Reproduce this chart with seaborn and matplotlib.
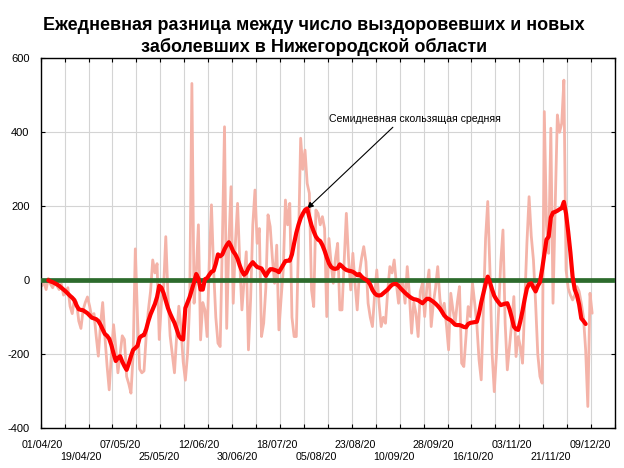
import numpy as np
import pandas as pd
import matplotlib
matplotlib.use("Agg")
import matplotlib.pyplot as plt
import seaborn as sns

# ---------------- data ----------------
start_date = "2020-04-01"

daily_diff = [
    -15, -5, -25, 5, -10, -20, -5, -15, -25, -10, -40, -30, -20,
    -70, -90, -50, -60, -110, -130, -80, -60, -45, -70, -100, -90, -150, -205, -120, -60, -150,
    -230, -296, -200, -120, -180, -250, -200, -150, -160, -260, -280, -305, -200, 85, -100,
    -240, -250, -245, -150,
    -80, -30, 55, 20, 45, -160, -60, -20, 118, -40, -150, -200, -250, -150, -70, -130, -220,
    -270, -200, -60, 532, -62, 20, 150, -161, -60, -80, -152, 50, 204, 28, -100, -170, -179,
    100, 415, -130, 100, 253, -62, 100, 208, 50, -80, 0, 77, -188, -50, 150, 244, 100, 140,
    -152, -116, -20, 177, 145, 60, -8, 95, -134, -50, 28, 217, 150, 208, -100, -152, -152,
    100, 384, 300, 352, 262, 235, -26, -71, 190, 181, 150, 172, 140, -98, 113, 46, -8, 60,
    100, -80, -80, 50, 181, 60, -26, 73, -10, -80, 19, 60, 91, 50, -62, -100, -125, -40, 28,
    -60, -125, -100, -116, -30, 37, 20, 55, -10, -62, 0, -8, -62, 37, -40, -143, -60, -89,
    -152, -30, -8, -98, -20, 28, -125, -62, -20, 37, -50, -89, -62, -120, -188, -35, -80,
    -116, -60, -17, -224, -233, -152, -71, -98, -8, -62, -120, -215, -269, -80, 113, 213, 28,
    -197, -301, -200, -80, 50, 136, -116, -242, -180, -116, -44, -206, -152, -180, -224, -62,
    100, 226, 120, 55, -62, -200, -260, -278, 456, 150, 73, 411, -62, 200, 447, 400, 424, 541,
    28, -22, -40, -53, -40, -17, -30, -62, -100, -188, -341, -35, -89,
]

# seven-day moving average as drawn (centred, first value on day 4)
ma_first_day = 3
moving_avg = [
    0, -3, -5, -8, -11, -15, -20, -25, -30, -36, -42, -47, -54, -68, -78, -80, -81, -85, -89,
    -95, -101, -103, -105, -110, -120, -133, -145, -150, -158, -175, -198, -218, -210, -205,
    -220, -232, -242, -225, -205, -188, -183, -177, -155, -150, -148, -132, -110, -92, -78,
    -64, -45, -15, -20, -35, -55, -75, -90, -103, -115, -132, -150, -158, -160, -75, -60, -45,
    -25, -5, 17, 5, -25, -25, 3, 6, 15, 23, 26, 45, 70, 65, 70, 84, 95, 103, 92, 78, 70, 58,
    40, 25, 15, 20, 33, 42, 49, 42, 36, 34, 32, 22, 12, 22, 30, 30, 28, 26, 22, 32, 42, 52,
    53, 53, 70, 100, 128, 150, 168, 180, 190, 194, 170, 148, 132, 118, 110, 106, 95, 80, 62,
    46, 36, 32, 31, 33, 43, 38, 32, 28, 26, 25, 23, 19, 14, 17, 10, 5, 2, -3, -12, -26, -35,
    -40, -41, -40, -35, -30, -25, -18, -12, -10, -10, -15, -22, -28, -34, -39, -44, -48, -51,
    -52, -54, -58, -62, -56, -50, -50, -54, -58, -63, -69, -76, -85, -95, -101, -105, -108,
    -114, -120, -121, -121, -123, -126, -127, -118, -115, -114, -113, -112, -90, -60, -35,
    -10, 10, -5, -25, -42, -52, -60, -67, -65, -63, -62, -78, -100, -125, -132, -134, -110,
    -82, -50, -22, -10, -8, -20, -30, -15, -5, 30, 70, 110, 118, 170, 183, 185, 188, 192, 195,
    212, 180, 130, 75, 10, -25, -40, -65, -103, -110, -118,
]

date_labels = ["01/04/20", "19/04/20", "07/05/20", "25/05/20", "12/06/20", "30/06/20",
               "18/07/20", "05/08/20", "23/08/20", "10/09/20", "28/09/20", "16/10/20",
               "03/11/20", "21/11/20", "09/12/20"]
label_step_days = 18
grid_step_days = 11
n_categories = 264
y_ticks = [-400, -200, 0, 200, 400, 600]

title = ("Ежедневная разница между число выздоровевших и новых\n"
         "заболевших в Нижегородской области")
annotation_text = "Семидневная скользящая средняя"
annotated_day = 122   # the summer peak of the moving average that the arrow points at

# ---------------- frames ----------------
dates = pd.date_range(start_date, periods=len(daily_diff), freq="D")
df_daily = pd.DataFrame({"day": np.arange(len(daily_diff)), "value": daily_diff, "date": dates})
df_ma = pd.DataFrame({"day": np.arange(ma_first_day, ma_first_day + len(moving_avg)),
                      "value": moving_avg})

# ---------------- styling ----------------
sns.set_theme(style="white")
plt.rcParams["font.family"] = ["Liberation Sans", "DejaVu Sans"]
plt.rcParams["text.color"] = "black"
plt.rcParams["xtick.color"] = "black"
plt.rcParams["ytick.color"] = "black"
plt.rcParams["xtick.labelcolor"] = "black"
plt.rcParams["ytick.labelcolor"] = "black"

fig = plt.figure(figsize=(6.24, 4.68), dpi=100)
ax = fig.add_axes([0.0652, 0.0848, 0.9204, 0.7906])

sns.lineplot(data=df_daily, x="day", y="value", color="#f4b3a8", linewidth=2.0,
             ax=ax, legend=False, zorder=2)
ax.axhline(0, color="#2c6b2c", linewidth=3.4, zorder=3)
sns.lineplot(data=df_ma, x="day", y="value", color="#ff0000", linewidth=3.0,
             ax=ax, legend=False, zorder=4)

ax.set_xlim(-0.5, n_categories - 0.5)
ax.set_ylim(-400, 600)

grid_pos = np.arange(-0.5, n_categories, grid_step_days)
ax.set_xticks(grid_pos)
ax.set_xticklabels([])
label_pos = np.arange(len(date_labels)) * label_step_days
ax.set_xticks(label_pos, minor=True)
ax.set_xticklabels([("\n" + t) if i % 2 else t for i, t in enumerate(date_labels)],
                   minor=True, fontsize=7.7, color="black")
ax.tick_params(axis="x", which="minor", length=0, pad=8.5)
ax.tick_params(axis="x", which="major", direction="in", length=3, width=0.8,
               color="black", top=True, bottom=True)

ax.set_yticks(y_ticks)
ax.set_yticklabels([str(v) for v in y_ticks], fontsize=8, color="black")
ax.tick_params(axis="y", which="major", direction="in", length=3, width=0.8,
               color="black", left=True, right=True, pad=8)

ax.grid(True, which="major", color="#d4d4d4", linewidth=0.8)
ax.set_axisbelow(True)
for s in ax.spines.values():
    s.set_visible(True)
    s.set_color("black")
    s.set_linewidth(1.0)
ax.set_xlabel("")
ax.set_ylabel("")

# annotation pointing at the summer moving-average peak
peak_value = moving_avg[annotated_day - ma_first_day]
ax.annotate(annotation_text, xy=(annotated_day, peak_value),
            xytext=(0.5025, 0.836), textcoords="axes fraction",
            ha="left", va="center", fontsize=7.6, color="black",
            arrowprops=dict(arrowstyle="-|>", color="black", lw=0.8,
                            mutation_scale=9, shrinkA=0, shrinkB=0,
                            relpos=(0.39, 0.0)))

fig.text(0.503, 1 - 36.5 / 468, title, ha="center", va="center", color="black",
         fontsize=13, fontweight="bold", linespacing=1.25)

fig.savefig("out.png", dpi=100, facecolor="white")
